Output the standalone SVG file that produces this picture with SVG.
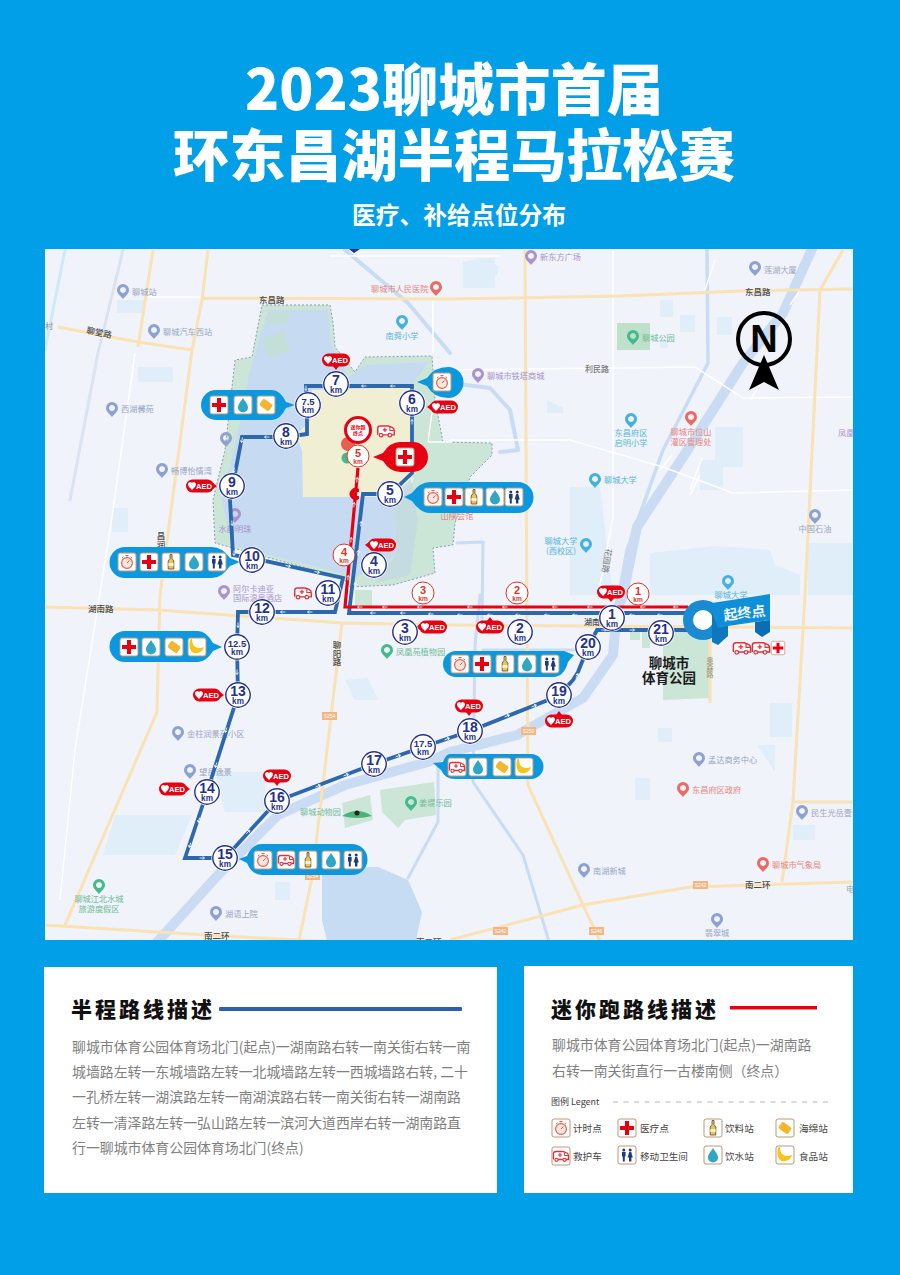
<svg xmlns="http://www.w3.org/2000/svg" width="900" height="1275" viewBox="0 0 900 1275">
<style>
text{font-family:"Noto Sans CJK SC","Liberation Sans",sans-serif}
.title{font-size:56.200px;font-weight:900;fill:#fff;text-anchor:middle}
.sub{font-size:23.800px;font-weight:700;fill:#fff;text-anchor:middle}
.h{font-size:21px;font-weight:900;fill:#111;letter-spacing:3px}
.b{font-size:13.900px;fill:#808080}
.lg{font-size:9.600px;fill:#444}
.y{fill:none;stroke:#f9e2b4;stroke-width:3;stroke-linejoin:round}
.w{fill:none;stroke:#fff;stroke-width:1.500}
.rv{fill:none;stroke:#c9dcf3;stroke-linejoin:round;stroke-linecap:round}
.gn{fill:#cbe5d6}
.m{font-size:8.200px;fill:#9aa5c4}
.mb{font-size:8.500px;fill:#4a4a4a;font-weight:500}
.mr{font-size:8.200px;fill:#e98680}
.mg{font-size:8.200px;fill:#6fbd98}
.mp{font-size:8.200px;fill:#a994cc}
.mt{font-size:8.200px;fill:#59b6d8}
.mc{text-anchor:middle}
.vt{writing-mode:vertical-rl;text-orientation:upright}
.rt{fill:none;stroke:#2c68ad;stroke-width:3.800;stroke-linejoin:miter}
.rd{fill:none;stroke:#e60012;stroke-width:3.200;stroke-linejoin:miter}
.ar{fill:none;stroke:#fff;stroke-width:.8}
.kn{font-family:"Liberation Sans",sans-serif;font-weight:700;font-size:14px;fill:#24318a;text-anchor:middle}
.ks{font-size:9.500px}
.ku{font-family:"Liberation Sans",sans-serif;font-weight:700;font-size:8.200px;fill:#24318a;text-anchor:middle}
.rn{fill:#d9362c;font-size:11px}
.ru{fill:#d9362c;font-size:6.500px}
.aed{font-family:"Liberation Sans",sans-serif;font-weight:700;font-size:7.600px;fill:#fff;text-anchor:middle}
.pill{fill:#0c98de}
.sb{font-family:"Liberation Sans",sans-serif;font-size:5px;fill:#fff;text-anchor:middle}
</style>
<defs>
<clipPath id="mapclip"><rect x="45" y="249" width="808" height="691"/></clipPath>
<rect id="tile" x="-9" y="-9" width="18" height="18" rx="2" fill="#fff" stroke="#b89a78" stroke-width="1"/>
<g id="i-cross"><use href="#tile"/><path d="M-2 -7H2V-2H7V2H2V7H-2V2H-7V-2H-2Z" fill="#e60012"/></g>
<g id="i-timer"><use href="#tile"/><circle cy="1" r="5.400" fill="#fbe6df" stroke="#e2604f" stroke-width="1.200"/><path d="M-1.500 -6.500H1.500M0 -5.500V-4M0 1L2.500 -1.500M-5 -4L-3.500 -5M5 -4L3.500 -5" stroke="#e2604f" stroke-width="1" fill="none"/></g>
<g id="i-bottle"><use href="#tile"/><path d="M-1 -7.500H1V-3.500L2.800 -1V7H-2.800V-1L-1 -3.500Z" fill="#eec15b" stroke="#5d4a22" stroke-width=".8"/><path d="M-2.600 1H2.600V4H-2.600Z" fill="#fff2c8"/></g>
<g id="i-drop"><use href="#tile"/><path d="M0 -7C2 -3.500 5 -1 5 2.500A5 5 0 0 1 -5 2.500C-5 -1 -2 -3.500 0 -7Z" fill="#2fa7c4"/></g>
<g id="i-sponge"><use href="#tile"/><rect x="-5.800" y="-4" width="11.600" height="8" rx="2" transform="rotate(35)" fill="#f3b62c"/></g>
<g id="i-banana"><use href="#tile"/><path d="M-5 -8C-5 -1 -1 3 7 0C6 5 -1 8 -5 5C-8 2 -8 -4 -6.500 -8Z" fill="#f5c51c"/></g>
<g id="i-wc"><use href="#tile"/><g fill="#1e3a78"><circle cx="-3.200" cy="-5" r="1.500"/><circle cx="3.200" cy="-5" r="1.500"/><path d="M-5 -3H-1.400V1.500H-2.200V6.500H-4.200V1.500H-5Z"/><path d="M2.200 -3H4.200L5.800 2.500H4.400V6.500H2V2.500H.6Z"/></g></g>
<g id="amb"><path d="M-7.500 3.500V-2.500Q-7.500 -4.500 -5 -4.500H2L6 -3Q7.500 -2 7.500 0V3.500H5M-3 3.500H2" fill="#fff" stroke="#e2303a" stroke-width="1.300"/><circle cx="-4.500" cy="3.800" r="1.600" fill="#fff" stroke="#e2303a" stroke-width="1.100"/><circle cx="3.500" cy="3.800" r="1.600" fill="#fff" stroke="#e2303a" stroke-width="1.100"/><path d="M-1 -3V1M-3 -1H1" stroke="#e2303a" stroke-width="1.100"/><path d="M3.500 -3.500V-.5H7" stroke="#e2303a" stroke-width="1" fill="none"/></g>
<g id="i-amb"><use href="#tile"/><use href="#amb"/></g>
<path id="pin" d="M0 8C-2 5 -6 3 -6 -1A6 6 0 1 1 6 -1C6 3 2 5 0 8ZM0 -4A3 3 0 1 0 .01 -4Z" fill-rule="evenodd"/>
<path id="ar" class="ar" d="M0 2.500V-2.500M-1.500 -.6L0 -2.500L1.500 -.6"/>
<g id="disc"><circle r="13.600" fill="#fff"/><circle r="12.200" fill="#fff" stroke="#24318a" stroke-width="1.400"/></g>
<g id="rdisc"><circle r="11" fill="#fff" stroke="#d9362c" stroke-width="1"/></g>
<g id="aedbg"><rect x="-14" y="-6.500" width="28" height="13" rx="6.500" fill="#e60012"/><path d="M-8 4C-10.500 1.500 -12 0 -12 -1.800A2.100 2.100 0 0 1 -8 -2.700A2.100 2.100 0 0 1 -4 -1.800C-4 0 -5.500 1.500 -8 4Z" fill="#fff"/></g>
</defs>

<rect id="poster-background" width="900" height="1275" fill="#009fe8"/>
<g id="heading">
<text class="title" x="454" y="110">2023聊城市首届</text>
<text class="title" x="454" y="176">环东昌湖半程马拉松赛</text>
<text class="sub" x="459" y="224">医疗、补给点位分布</text>
</g>

<g id="base-map" clip-path="url(#mapclip)">
<rect x="45" y="249" width="808" height="691" fill="#f0f3fa"/>
<g fill="#e0eefa">
<path d="M463 262L480 258H495V288H463Z"/><rect x="660" y="300" width="13" height="17"/><rect x="680" y="315" width="15" height="17"/><rect x="717" y="317" width="15" height="18"/>
<path d="M547 400L563 408V413H547Z"/><rect x="715" y="427" width="28" height="40"/><rect x="700" y="460" width="23" height="30"/>
<path d="M570 487H600L613 595H570Z"/><path d="M650 553L715 546L770 550L775 565L800 575V595H650Z"/><rect x="808" y="543" width="45" height="52"/>
<rect x="138" y="367" width="35" height="15"/><rect x="112" y="508" width="16" height="24"/><rect x="117" y="300" width="28" height="13"/>
<path d="M345 680L368 678L378 700H355Z"/><path d="M215 772H265V812L225 812Z"/><path d="M115 815H192L175 855H103Z"/><rect x="275" y="882" width="15" height="18"/>
<rect x="658" y="728" width="14" height="14"/><rect x="770" y="703" width="22" height="34"/><rect x="635" y="778" width="15" height="22"/><path d="M757 745H775V772Z"/><rect x="793" y="825" width="22" height="15"/>
<rect x="488" y="265" width="10" height="10"/><rect x="550" y="540" width="10" height="14"/><rect x="660" y="340" width="8" height="8"/>
</g>
<g id="water">
<path class="rv" stroke-width="10" d="M816 240L783 313L743 363L683 457L637 527L623 595L617 610L613 655L583 698L517 735L450 752L428 762L345 785L278 815L218 875L150 950"/>
<path class="rv" stroke-width="3.500" d="M707 250L708 363L663 450L627 550L618 600"/>
<path class="rv" stroke-width="4" d="M345 250L408 303L450 353M450 383L490 388L510 410L518 450L500 452"/>
<path class="rv" stroke-width="3" d="M457 543L483 542L482 620"/>
<path class="rv" stroke-width="3" d="M480 595L475 645L473 782L523 855L550 945M483 650H575M438 765V822L408 878"/>
<path class="rv" stroke-width="3" d="M65 250L45 350" style="stroke:#cfe9f7"/>
<path class="rv" stroke-width="3" d="M123 250L98 353L70 500" style="stroke:#dbe3f0"/>
<path fill="#c6dcf3" d="M322 868L378 867L408 880L422 912L415 945H328L322 920Z"/>
</g>
<g id="park">
<path d="M262 305H330L333 322L335 347L355 372L365 357L432 356L435 400L443 442L492 443L492 455L470 477L455 523L453 545L433 548L435 573L393 585L350 587L343 578L215 543L213 500L225 450L235 360L252 357Z" fill="#cbe5d6" stroke="#8b9cb8" stroke-width="1" stroke-dasharray="2 2"/>
<path d="M268 310H328L331 345L348 378L365 365L428 362L412 385L412 480L395 500L396 555L355 578L345 574L232 545L222 500L236 440L250 370Z" fill="#c6dbf2"/>
<path d="M395 500L412 482L418 520L410 575L375 583L396 555Z" fill="#c4dce0"/>
<path d="M262 340L282 330L290 350L268 358ZM268 312H290L288 322L266 326Z" fill="#c3dfd8"/>
<path d="M312 390L410 387V480L392 497H303L302 450L296 436L310 420Z" fill="#f0eed3"/>
<rect class="gn" x="355" y="590" width="17" height="16"/>
</g>
<g class="gn"><rect x="617" y="323" width="33" height="27" fill="#bfe1cb"/><path d="M380 790L434 782L436 815L405 820L398 828L382 812Z"/><path d="M342 803L370 795L373 820L345 828Z"/><path d="M663 632H710V698L663 700Z"/><rect x="630" y="632" width="10" height="8"/><path d="M642 632H650V648H642Z"/></g>
<g id="roads">
<path class="w" d="M145 297H203M135 353L112 517L75 750L60 900M440 370L695 367L743 398L855 397M613 250V517L598 595M570 440L663 467L733 493L855 490M428 442H452M428 442L433 405M570 440H450M330 256H345L500 256M433 300V353M715 260L705 290M750 400L760 385M660 470L672 455M690 495L700 475M690 490L702 458M790 305L800 290"/>
<path class="y" d="M203 298L450 299L620 296L740 291L853 289M153 250L138 347M208 250L202 300L192 350L160 595L157 712L65 925M58 327L138 342L192 350M45 607L158 610L342 623L450 625L853 628M342 623L312 878L298 945M45 925L205 935L298 940L400 945M450 940L583 905L690 887L855 882M525 250L527 628L528 785L583 905L602 945M843 250L820 290L805 595L793 802L782 882M793 802H855M710 628V703"/>
</g>
<g id="map-labels">
<text class="m" x="45" y="329" style="fill:#8a8a8a">村</text>
<use href="#pin" transform="translate(123,291)" fill="#8ea2cf"/><text class="m" x="132" y="295">聊城站</text>
<use href="#pin" transform="translate(154,331)" fill="#8ea2cf"/><text class="m" x="163" y="335">聊城汽车西站</text>
<text class="mb" transform="translate(86,333) rotate(12)">聊堂路</text>
<text class="mb" x="259" y="303">东昌路</text>
<text class="mr" x="371" y="292">聊城市人民医院</text><use href="#pin" transform="translate(436,288)" fill="#ea6b66"/>
<use href="#pin" transform="translate(402,322)" fill="#46b1dc"/><text class="mt mc" x="402" y="339">南舜小学</text>
<use href="#pin" transform="translate(112,409)" fill="#8ea2cf"/><text class="m" x="121" y="412">西湖馨苑</text>
<use href="#pin" transform="translate(162,470)" fill="#8ea2cf"/><text class="m" x="171" y="474">畅博怡情湾</text>
<use href="#pin" transform="translate(226,439)" fill="#8ea2cf"/>
<use href="#pin" transform="translate(235,515)" fill="#a994cc"/><text class="mp mc" x="235" y="532">水韵明珠</text>
<use href="#pin" transform="translate(224,592)" fill="#a994cc"/><text class="mp" y="592"><tspan x="233">阿尔卡迪亚</tspan><tspan x="233" dy="9">国际温泉酒店</tspan></text>
<use href="#pin" transform="translate(531,257)" fill="#a994cc"/><text class="mp" x="540" y="260">新东方广场</text>
<use href="#pin" transform="translate(755,268)" fill="#8ea2cf"/><text class="m" x="764" y="273">莲湖大厦</text>
<text class="mb" x="745" y="295">东昌路</text>
<use href="#pin" transform="translate(633,337)" fill="#45bb8c"/><text class="mg" x="642" y="341">聊城公园</text>
<text class="mb" x="585" y="372" style="font-size:8px;fill:#777">利民路</text>
<use href="#pin" transform="translate(478,375)" fill="#a994cc"/><text class="mp" x="487" y="379">聊城市铁塔商城</text>
<use href="#pin" transform="translate(631,420)" fill="#46b1dc"/><text class="mt mc" y="436"><tspan x="631">东昌府区</tspan><tspan x="631" dy="10">启明小学</tspan></text>
<use href="#pin" transform="translate(691,418)" fill="#ea6b66"/><text class="mr mc" y="435"><tspan x="691">聊城市位山</tspan><tspan x="691" dy="10">灌区管理处</tspan></text>
<text class="mp" x="838" y="436">凤凰</text>
<use href="#pin" transform="translate(595,480)" fill="#46b1dc"/><text class="mt" x="604" y="483">聊城大学</text>
<text class="mt mc" y="544"><tspan x="561">聊城大学</tspan><tspan x="561" dy="10">(西校区)</tspan></text><use href="#pin" transform="translate(586,545)" fill="#46b1dc"/>
<use href="#pin" transform="translate(815,516)" fill="#8ea2cf"/><text class="m mc" x="815" y="532">中国石油</text>
<text class="m" transform="translate(606,548) rotate(100)" style="fill:#777">花园路</text>
<use href="#pin" transform="translate(728,582)" fill="#46b1dc"/><text class="mt mc" x="731" y="598">聊城大学</text>
<text class="mr mc" x="457" y="519">山陕会馆</text>
<text class="mb" x="88" y="612">湖南路</text>
<text class="mb vt" x="337" y="641">聊阳路</text>
<text class="mb vt" x="161" y="532">昌润</text>
<rect x="322" y="712" width="15" height="8" fill="#f3b582"/><text class="sb" x="329.500" y="718">S254</text>
<use href="#pin" transform="translate(178,733)" fill="#8ea2cf"/><text class="m" x="187" y="737">金柱润景苑小区</text>
<use href="#pin" transform="translate(190,771)" fill="#8ea2cf"/><text class="m" x="199" y="775">望岳逸景</text>
<text class="mg" x="300" y="815">聊城动物园</text><path d="M342 816Q357 806 372 816Q357 820 342 816Z" fill="#4db27a"/><circle cx="357" cy="813" r="2.500" fill="#222"/>
<use href="#pin" transform="translate(411,803)" fill="#45bb8c"/><text class="mg" x="419" y="806">姜堤乐园</text>
<use href="#pin" transform="translate(387,651)" fill="#45bb8c"/><text class="mg" x="396" y="655">凤凰苑植物园</text>
<text class="mb" x="584" y="625" style="font-size:8px">湖南路</text>
<use href="#pin" transform="translate(99,886)" fill="#45bb8c"/><text class="mg mc" y="902"><tspan x="99">聊城江北水城</tspan><tspan x="99" dy="10">旅游度假区</tspan></text>
<use href="#pin" transform="translate(216,913)" fill="#8ea2cf"/><text class="m" x="225" y="917">湖语上院</text>
<text class="mb" x="204" y="939">南二环</text>
<text class="mb" x="416" y="945">南二环</text>
<rect x="305" y="872" width="15" height="8" fill="#f3b582"/><text class="sb" x="312.500" y="878">S254</text>
<rect x="521" y="727" width="15" height="8" fill="#f3b582"/><text class="sb" x="528.500" y="733">S250</text>
<rect x="693" y="881" width="15" height="8" fill="#f3b582"/><text class="sb" x="700.500" y="887">S242</text>
<rect x="493" y="927" width="15" height="8" fill="#f3b582"/><text class="sb" x="500.500" y="933">S242</text>
<rect x="589" y="927" width="15" height="8" fill="#f3b582"/><text class="sb" x="596.500" y="933">S246</text>
<use href="#pin" transform="translate(699,759)" fill="#8ea2cf"/><text class="m" x="708" y="763">孟达商务中心</text>
<use href="#pin" transform="translate(683,789)" fill="#ea6b66"/><text class="mr" x="692" y="793">东昌府区政府</text>
<use href="#pin" transform="translate(802,812)" fill="#8ea2cf"/><text class="m" x="811" y="816">民生光岳壹号</text>
<use href="#pin" transform="translate(584,870)" fill="#8ea2cf"/><text class="m" x="593" y="874">南湖新城</text>
<use href="#pin" transform="translate(763,864)" fill="#ea6b66"/><text class="mr" x="772" y="868">聊城市气象局</text>
<text class="mb" x="745" y="888">南二环</text>
<text class="m" x="846" y="892">电</text>
<use href="#pin" transform="translate(717,920)" fill="#8ea2cf"/><text class="m mc" x="717" y="936">翡翠城</text>
<text class="mb vt" x="710" y="657" style="font-size:7px;fill:#a09a80">奥森路</text>
<text text-anchor="middle" y="668" style="font-size:13.500px;font-weight:700;fill:#1a1a1a"><tspan x="669">聊城市</tspan><tspan x="669" dy="15">体育公园</tspan></text>
<path d="M349 249H360L354 253Z" fill="#24318a"/>
<path d="M348 437A7 7 0 1 1 347.990 437Z" fill="#e5604f"/>
<circle cx="347" cy="458" r="5.500" fill="#45bb8c"/>
</g>
</g>

<g id="connectors">
<path id="half-route" class="rt" d="M692 630H597L588 647L578 672Q570 688 548 700L470 731L423 747L374 764L277 801L225 858H185L207 792L238 695L237 647L238 612H335L343 578L252 558L233 555L230 500L242 437H286L307 434V405L306 386H412V473L390 494H363L349 613H690"/>
<path id="mini-route" class="rd" d="M688 607H345L358 468"/>
<g id="route-arrows">
<use href="#ar" transform="translate(660,615) rotate(-90)"/><use href="#ar" transform="translate(632,615) rotate(-90)"/><use href="#ar" transform="translate(575,615) rotate(-90)"/><use href="#ar" transform="translate(547,615) rotate(-90)"/><use href="#ar" transform="translate(518,615) rotate(-90)"/><use href="#ar" transform="translate(490,615) rotate(-90)"/><use href="#ar" transform="translate(460,615) rotate(-90)"/><use href="#ar" transform="translate(431,614) rotate(-90)"/><use href="#ar" transform="translate(403,613) rotate(-90)"/><use href="#ar" transform="translate(373,613) rotate(-90)"/>
<use href="#ar" transform="translate(355,585) rotate(8)"/><use href="#ar" transform="translate(358,553) rotate(8)"/><use href="#ar" transform="translate(361,524) rotate(8)"/>
<use href="#ar" transform="translate(412,480)"/><use href="#ar" transform="translate(412,422)"/><use href="#ar" transform="translate(393,386) rotate(-90)"/><use href="#ar" transform="translate(364,386) rotate(-90)"/><use href="#ar" transform="translate(306,388) rotate(180)"/><use href="#ar" transform="translate(267,437) rotate(-90)"/><use href="#ar" transform="translate(242,440) rotate(190)"/><use href="#ar" transform="translate(234,470) rotate(190)"/><use href="#ar" transform="translate(232,523) rotate(175)"/><use href="#ar" transform="translate(234,553) rotate(180)"/><use href="#ar" transform="translate(288,566) rotate(103)"/><use href="#ar" transform="translate(317,572) rotate(103)"/>
<use href="#ar" transform="translate(310,612) rotate(-90)"/><use href="#ar" transform="translate(283,612) rotate(-90)"/><use href="#ar" transform="translate(238,625) rotate(180)"/><use href="#ar" transform="translate(237,672) rotate(180)"/><use href="#ar" transform="translate(226,730) rotate(197)"/><use href="#ar" transform="translate(216,765) rotate(197)"/><use href="#ar" transform="translate(199,820) rotate(197)"/><use href="#ar" transform="translate(190,845) rotate(197)"/><use href="#ar" transform="translate(202,858) rotate(90)"/>
<use href="#ar" transform="translate(248,832) rotate(43)"/><use href="#ar" transform="translate(318,786) rotate(68)"/><use href="#ar" transform="translate(346,775) rotate(68)"/><use href="#ar" transform="translate(398,756) rotate(70)"/><use href="#ar" transform="translate(447,739) rotate(70)"/><use href="#ar" transform="translate(507,716) rotate(68)"/><use href="#ar" transform="translate(534,706) rotate(68)"/><use href="#ar" transform="translate(577,676) rotate(25)"/><use href="#ar" transform="translate(604,630) rotate(90)"/><use href="#ar" transform="translate(632,630) rotate(90)"/>
<g transform="translate(0,-8)"><use href="#ar" transform="translate(676,615) rotate(-90)"/><use href="#ar" transform="translate(643,615) rotate(-90)"/><use href="#ar" transform="translate(590,615) rotate(-90)"/><use href="#ar" transform="translate(555,615) rotate(-90)"/><use href="#ar" transform="translate(505,615) rotate(-90)"/><use href="#ar" transform="translate(470,615) rotate(-90)"/><use href="#ar" transform="translate(420,615) rotate(-90)"/><use href="#ar" transform="translate(385,615) rotate(-90)"/><use href="#ar" transform="translate(360,615) rotate(-90)"/></g>
<use href="#ar" transform="translate(348,578) rotate(5)"/><use href="#ar" transform="translate(351,540) rotate(5)"/><use href="#ar" transform="translate(354,505) rotate(5)"/><use href="#ar" transform="translate(357,480) rotate(5)"/>
</g>
</g>

<g id="callouts">
<g id="callout-7-5"><path class="pill" d="M216 390H272Q280 390 286 402L295 405L286 408Q280 420 272 420H216A15 15 0 0 1 216 390Z"/><use href="#i-cross" x="219" y="405"/><use href="#i-drop" x="243" y="405"/><use href="#i-sponge" x="266" y="405"/></g>
<g id="callout-6"><path class="pill" d="M448 367A15.500 15.500 0 0 1 448 398Q434 398 427 386L417 382L427 378Q434 367 448 367Z"/><use href="#i-timer" x="442" y="382"/></g>
<g id="callout-mini"><path d="M413 442A15 15 0 0 1 413 472H400Q390 472 383 461L373 457L383 453Q390 442 400 442Z" fill="#e60012"/><use href="#i-cross" x="405" y="457"/></g>
<g id="callout-5"><path class="pill" d="M518 482A15.500 15.500 0 0 1 518 513H430Q420 513 412 501L404 497L412 493Q420 482 430 482Z"/><use href="#i-timer" x="433" y="497"/><use href="#i-cross" x="454" y="497"/><use href="#i-bottle" x="474" y="497"/><use href="#i-drop" x="495" y="497"/><use href="#i-wc" x="514" y="497"/></g>
<g id="callout-10"><path class="pill" d="M125 547H212Q222 547 230 558L240 562L230 566Q222 578 212 578H125A15.500 15.500 0 0 1 125 547Z"/><use href="#i-timer" x="127" y="562"/><use href="#i-cross" x="149" y="562"/><use href="#i-bottle" x="171" y="562"/><use href="#i-drop" x="194" y="562"/><use href="#i-wc" x="217" y="562"/></g>
<g id="callout-12-5"><path class="pill" d="M125 631H198Q206 631 213 643L222 647L213 651Q206 662 198 662H125A15.500 15.500 0 0 1 125 631Z"/><use href="#i-cross" x="129" y="647"/><use href="#i-drop" x="151" y="647"/><use href="#i-sponge" x="174" y="647"/><use href="#i-banana" x="197" y="647"/></g>
<g id="callout-20"><path class="pill" d="M456 651H564L574 655L568 662Q564 677 553 677H456A13 13 0 0 1 456 651Z"/><use href="#i-timer" x="460" y="664"/><use href="#i-cross" x="482" y="664"/><use href="#i-bottle" x="505" y="664"/><use href="#i-drop" x="527" y="664"/><use href="#i-wc" x="550" y="664"/></g>
<g id="callout-17-5"><path class="pill" d="M450 754H531A12.500 12.500 0 0 1 531 779H455Q445 779 441 770L433 763L443 762Q446 754 450 754Z"/><use href="#i-amb" x="457" y="767"/><use href="#i-drop" x="478" y="767"/><use href="#i-sponge" x="502" y="767"/><use href="#i-banana" x="524" y="767"/></g>
<g id="callout-15"><path class="pill" d="M262 844H352A15.500 15.500 0 0 1 352 875H262Q252 875 247 863L239 859L247 856Q252 844 262 844Z"/><use href="#i-timer" x="263" y="860"/><use href="#i-amb" x="286" y="860"/><use href="#i-bottle" x="308" y="860"/><use href="#i-drop" x="331" y="860"/><use href="#i-wc" x="353" y="860"/></g>
</g>

<g id="aed-badges">
<g id="aed-1" transform="translate(336,360)"><use href="#aedbg"/><path d="M-3 6L0 10L3 6Z" fill="#e60012"/><text class="aed" x="4" y="3">AED</text></g>
<g id="aed-2" transform="translate(444,407)"><use href="#aedbg"/><path d="M-13 -3L-17 0L-13 3Z" fill="#e60012"/><text class="aed" x="4" y="3">AED</text></g>
<g id="aed-3" transform="translate(200,486)"><use href="#aedbg"/><path d="M13 -3L17 0L13 3Z" fill="#e60012"/><text class="aed" x="4" y="3">AED</text></g>
<g id="aed-4" transform="translate(382,545)"><use href="#aedbg"/><path d="M-13 -3L-17 0L-13 3Z" fill="#e60012"/><text class="aed" x="4" y="3">AED</text></g>
<g id="aed-5" transform="translate(433,627)"><use href="#aedbg"/><path d="M-13 -3L-17 0L-13 3Z" fill="#e60012"/><text class="aed" x="4" y="3">AED</text></g>
<g id="aed-6" transform="translate(490,627)"><use href="#aedbg"/><path d="M-3 -6L0 -10L3 -6Z" fill="#e60012"/><text class="aed" x="4" y="3">AED</text></g>
<g id="aed-7" transform="translate(611,592)"><use href="#aedbg"/><path d="M-3 6L0 10L3 6Z" fill="#e60012"/><text class="aed" x="4" y="3">AED</text></g>
<g id="aed-8" transform="translate(469,706)"><use href="#aedbg"/><path d="M-3 6L0 10L3 6Z" fill="#e60012"/><text class="aed" x="4" y="3">AED</text></g>
<g id="aed-9" transform="translate(559,721)"><use href="#aedbg"/><path d="M-3 -6L0 -10L3 -6Z" fill="#e60012"/><text class="aed" x="4" y="3">AED</text></g>
<g id="aed-10" transform="translate(207,695)"><use href="#aedbg"/><path d="M13 -3L17 0L13 3Z" fill="#e60012"/><text class="aed" x="4" y="3">AED</text></g>
<g id="aed-11" transform="translate(173,789)"><use href="#aedbg"/><path d="M13 -3L17 0L13 3Z" fill="#e60012"/><text class="aed" x="4" y="3">AED</text></g>
<g id="aed-12" transform="translate(277,776)"><use href="#aedbg"/><path d="M-3 6L0 10L3 6Z" fill="#e60012"/><text class="aed" x="4" y="3">AED</text></g>
</g>

<g id="km-markers">
<g id="km-1" transform="translate(612,618)"><use href="#disc"/><text class="kn" y="1">1</text><text class="ku" y="9">km</text></g>
<g id="km-2" transform="translate(520,632)"><use href="#disc"/><text class="kn" y="1">2</text><text class="ku" y="9">km</text></g>
<g id="km-3" transform="translate(405,632)"><use href="#disc"/><text class="kn" y="1">3</text><text class="ku" y="9">km</text></g>
<g id="km-4" transform="translate(374,565)"><use href="#disc"/><text class="kn" y="1">4</text><text class="ku" y="9">km</text></g>
<g id="km-5" transform="translate(390,494)"><use href="#disc"/><text class="kn" y="1">5</text><text class="ku" y="9">km</text></g>
<g id="km-6" transform="translate(412,403)"><use href="#disc"/><text class="kn" y="1">6</text><text class="ku" y="9">km</text></g>
<g id="km-7" transform="translate(336,384)"><use href="#disc"/><text class="kn" y="1">7</text><text class="ku" y="9">km</text></g>
<g id="km-7-5" transform="translate(308,405)"><use href="#disc"/><text class="kn ks" y="0">7.5</text><text class="ku" y="8">km</text></g>
<g id="km-8" transform="translate(286,436)"><use href="#disc"/><text class="kn" y="1">8</text><text class="ku" y="9">km</text></g>
<g id="km-9" transform="translate(232,486)"><use href="#disc"/><text class="kn" y="1">9</text><text class="ku" y="9">km</text></g>
<g id="km-10" transform="translate(252,560)"><use href="#disc"/><text class="kn" y="1">10</text><text class="ku" y="9">km</text></g>
<g id="km-11" transform="translate(328,593)"><use href="#disc"/><text class="kn" y="1">11</text><text class="ku" y="9">km</text></g>
<g id="km-12" transform="translate(262,612)"><use href="#disc"/><text class="kn" y="1">12</text><text class="ku" y="9">km</text></g>
<g id="km-12-5" transform="translate(237,647)"><use href="#disc"/><text class="kn ks" y="0">12.5</text><text class="ku" y="8">km</text></g>
<g id="km-13" transform="translate(238,695)"><use href="#disc"/><text class="kn" y="1">13</text><text class="ku" y="9">km</text></g>
<g id="km-14" transform="translate(207,792)"><use href="#disc"/><text class="kn" y="1">14</text><text class="ku" y="9">km</text></g>
<g id="km-15" transform="translate(225,858)"><use href="#disc"/><text class="kn" y="1">15</text><text class="ku" y="9">km</text></g>
<g id="km-16" transform="translate(277,801)"><use href="#disc"/><text class="kn" y="1">16</text><text class="ku" y="9">km</text></g>
<g id="km-17" transform="translate(374,764)"><use href="#disc"/><text class="kn" y="1">17</text><text class="ku" y="9">km</text></g>
<g id="km-17-5" transform="translate(423,747)"><use href="#disc"/><text class="kn ks" y="0">17.5</text><text class="ku" y="8">km</text></g>
<g id="km-18" transform="translate(470,731)"><use href="#disc"/><text class="kn" y="1">18</text><text class="ku" y="9">km</text></g>
<g id="km-19" transform="translate(559,695)"><use href="#disc"/><text class="kn" y="1">19</text><text class="ku" y="9">km</text></g>
<g id="km-20" transform="translate(588,647)"><use href="#disc"/><text class="kn" y="1">20</text><text class="ku" y="9">km</text></g>
<g id="km-21" transform="translate(661,633)"><use href="#disc"/><text class="kn" y="1">21</text><text class="ku" y="9">km</text></g>
<g id="mini-1" transform="translate(638,594)"><use href="#rdisc"/><text class="kn rn" y="1">1</text><text class="ku ru" y="7.500">km</text></g>
<g id="mini-2" transform="translate(517,593)"><use href="#rdisc"/><text class="kn rn" y="1">2</text><text class="ku ru" y="7.500">km</text></g>
<g id="mini-3" transform="translate(423,593)"><use href="#rdisc"/><text class="kn rn" y="1">3</text><text class="ku ru" y="7.500">km</text></g>
<g id="mini-4" transform="translate(344,555)"><use href="#rdisc"/><text class="kn rn" y="1">4</text><text class="ku ru" y="7.500">km</text></g>
<g id="mini-5" transform="translate(358,456)"><use href="#rdisc"/><text class="kn rn" y="1">5</text><text class="ku ru" y="7.500">km</text></g>
</g>

<g id="mini-finish"><circle cx="358" cy="430" r="12.500" fill="#fff" stroke="#e60012" stroke-width="3"/><text text-anchor="middle" y="429" style="font-size:5px;font-weight:700;fill:#e60012"><tspan x="358">迷你跑</tspan><tspan x="358" dy="6">终点</tspan></text></g>
<path id="mini-turn" d="M359 489A6 6 0 1 0 359 499V496H354V492H359Z" fill="#e60012"/>
<use id="amb-mini" href="#amb" transform="translate(386,431) scale(1.100)"/>
<use id="amb-11" href="#amb" transform="translate(303,593) scale(1.100)"/>

<g id="start-finish">
<circle cx="703" cy="620" r="20" fill="#1a8bd1"/><circle cx="703" cy="620" r="10" fill="#fff"/>
<path d="M712 603L770 594V620L755 622L728 626V636L712 642Z" fill="#108fd8"/>
<path d="M712 612V642L718 645L728 636V626L718 628Z" fill="#0c79bf"/>
<path d="M755 622L770 620V632L762 637L755 632Z" fill="#0a6fb2"/>
<text transform="translate(745,618) rotate(-7)" text-anchor="middle" style="font-size:14px;font-weight:700;fill:#eef8ff">起终点</text>
<use href="#amb" transform="translate(742,648) scale(1.150)"/><use href="#amb" transform="translate(761,648) scale(1.150)"/>
<g transform="translate(778,648) scale(.75)"><use href="#i-cross"/></g>
</g>

<g id="compass"><circle cx="764" cy="339" r="26" fill="none" stroke="#000" stroke-width="4"/><text x="764" y="352" text-anchor="middle" style="font-family:'Liberation Sans',sans-serif;font-size:38px;font-weight:700;fill:#000">N</text><path d="M764 355L749 390L764 382L779 390Z" fill="#000"/></g>

<g id="panel-half">
<rect x="44" y="967" width="453" height="226" fill="#fff"/>
<text class="h" x="71" y="1017">半程路线描述</text>
<rect x="219" y="1007" width="243" height="4" rx="1" fill="#2c62ac"/>
<text class="b" x="72" y="1052">聊城市体育公园体育场北门(起点)一湖南路右转一南关街右转一南</text>
<text class="b" x="72" y="1077">城墙路左转一东城墙路左转一北城墙路左转一西城墙路右转, 二十</text>
<text class="b" x="72" y="1102">一孔桥左转一湖滨路左转一南湖滨路右转一南关街右转一湖南路</text>
<text class="b" x="72" y="1128">左转一清泽路左转一弘山路左转一滨河大道西岸右转一湖南路直</text>
<text class="b" x="72" y="1153">行一聊城市体育公园体育场北门(终点)</text>
</g>
<g id="panel-mini">
<rect x="524" y="966" width="329" height="227" fill="#fff"/>
<text class="h" x="551" y="1017">迷你跑路线描述</text>
<rect x="730" y="1006" width="87" height="3.500" fill="#e60012"/>
<text class="b" x="552" y="1050">聊城市体育公园体育场北门(起点)一湖南路</text>
<text class="b" x="552" y="1076">右转一南关街直行一古楼南侧（终点）</text>
<text class="lg" x="551" y="1105" style="font-size:9px">图例 Legent</text>
<path d="M613 1102H830" stroke="#b5b5b5" stroke-width="1" stroke-dasharray="5 5.500"/>
</g>
<g id="legend">
<g id="lg-timer"><use href="#i-timer" x="561" y="1128"/><text class="lg" x="573" y="1132">计时点</text></g>
<g id="lg-cross"><use href="#i-cross" x="627" y="1128"/><text class="lg" x="640" y="1132">医疗点</text></g>
<g id="lg-bottle"><use href="#i-bottle" x="713" y="1128"/><text class="lg" x="725" y="1132">饮料站</text></g>
<g id="lg-sponge"><use href="#i-sponge" x="785" y="1128"/><text class="lg" x="799" y="1132">海绵站</text></g>
<g id="lg-amb"><use href="#i-amb" x="561" y="1156"/><text class="lg" x="573" y="1160">救护车</text></g>
<g id="lg-wc"><use href="#i-wc" x="627" y="1155"/><text class="lg" x="640" y="1160">移动卫生间</text></g>
<g id="lg-drop"><use href="#i-drop" x="713" y="1155"/><text class="lg" x="725" y="1160">饮水站</text></g>
<g id="lg-banana"><use href="#i-banana" x="785" y="1155"/><text class="lg" x="799" y="1160">食品站</text></g>
</g>
</svg>
